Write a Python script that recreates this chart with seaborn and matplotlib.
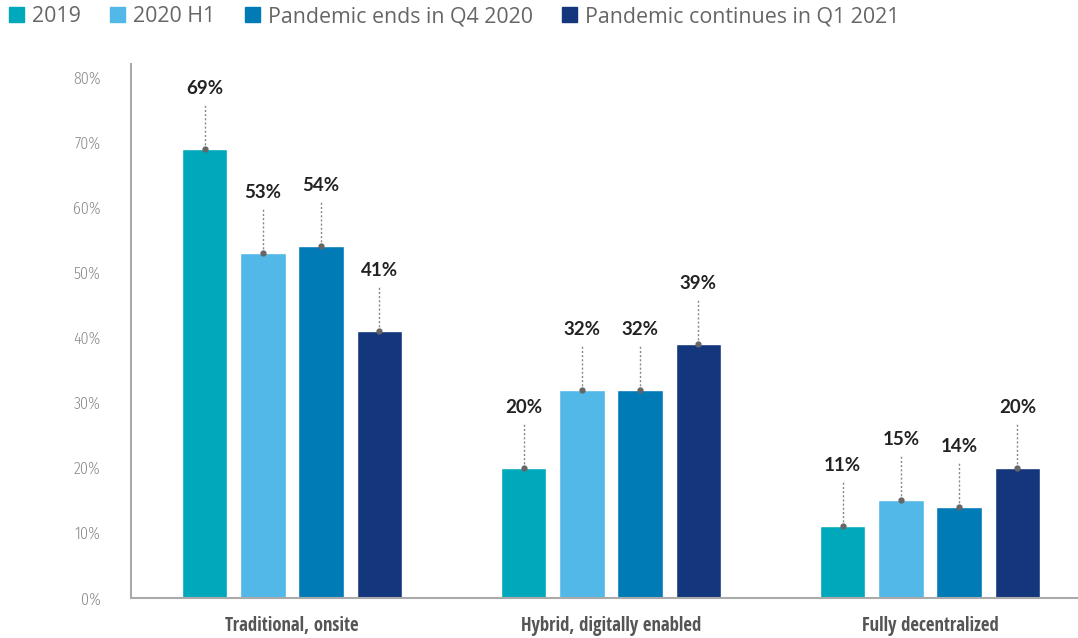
import matplotlib
matplotlib.use('AGG')
import matplotlib.pyplot as plt
import seaborn as sns
import pandas as pd

categories = ['Traditional, onsite', 'Hybrid, digitally enabled', 'Fully decentralized']
series = ['2019', '2020 H1', 'Pandemic ends in Q4 2020', 'Pandemic continues in Q1 2021']
values_2019 = [69, 20, 11]
values_2020h1 = [53, 32, 15]
values_q4 = [54, 32, 14]
values_q1 = [41, 39, 20]
colors = ['#00A8BC', '#52B8E8', '#007BB6', '#13367C']
yticks = [0, 10, 20, 30, 40, 50, 60, 70, 80]

rows = []
for s, vals in zip(series, [values_2019, values_2020h1, values_q4, values_q1]):
    for c, v in zip(categories, vals):
        rows.append({'category': c, 'series': s, 'value': v})
df = pd.DataFrame(rows)

sns.set_style('white')
plt.rcParams['font.family'] = ['Open Sans', 'DejaVu Sans']
cond_bold = ['Open Sans Condensed', 'DejaVu Sans']
cond_light = ['Fira Sans Condensed', 'DejaVu Sans']

fig = plt.figure(figsize=(10.78, 6.38), dpi=100)
ax = fig.add_axes([0.1215, 0.0627, 0.8785, 0.837])

sns.barplot(data=df, x='category', y='value', hue='series', order=categories,
            hue_order=series, palette=colors, width=0.73, gap=0.22,
            saturation=1, ax=ax, legend=False)

# labels with dotted leader lines
for cont in ax.containers:
    for bar in cont:
        x = bar.get_x() + bar.get_width() / 2
        h = bar.get_height()
        ax.plot([x, x], [h, h + 6.8], linestyle=(0, (1.5, 1.5)), color='#888888', lw=1)
        ax.plot(x, h, 'o', color='#666666', ms=3.5)
        ax.text(x, h + 9.3, f'{h:.0f}%', ha='center', va='center', fontsize=13.5,
                fontweight='bold', color='#222222', family=['Lato', 'Liberation Sans'])

ax.set_xlim(-0.505, 2.464)
ax.set_ylim(0, 82)
ax.set_yticks(yticks)
ax.set_yticklabels([f'{t}%' for t in yticks], family=cond_light, fontweight=300,
                   fontsize=11.5, color='#888888')
ax.set_xticks(range(len(categories)))
ax.set_xticklabels(categories, family=cond_bold, fontsize=13.5, fontweight='bold', color='#555555')
ax.tick_params(axis='y', length=0, pad=22)
ax.tick_params(axis='x', length=0, pad=13)
ax.set_xlabel('')
ax.set_ylabel('')
for side in ['top', 'right']:
    ax.spines[side].set_visible(False)
for side in ['left', 'bottom']:
    ax.spines[side].set_color('#AAAAAA')
    ax.spines[side].set_linewidth(1.5)

handles = [plt.Rectangle((0, 0), 1, 1, color=c) for c in colors]
leg = fig.legend(handles, series, loc='center left', bbox_to_anchor=(0.004, 0.974),
                 ncol=4, frameon=False, fontsize=15.4, handlelength=0.72, handleheight=0.72,
                 handletextpad=0.38, columnspacing=1.35, borderaxespad=0, borderpad=0.2)
for t in leg.get_texts():
    t.set_color('#666666')

fig.savefig('out.png', dpi=100)
